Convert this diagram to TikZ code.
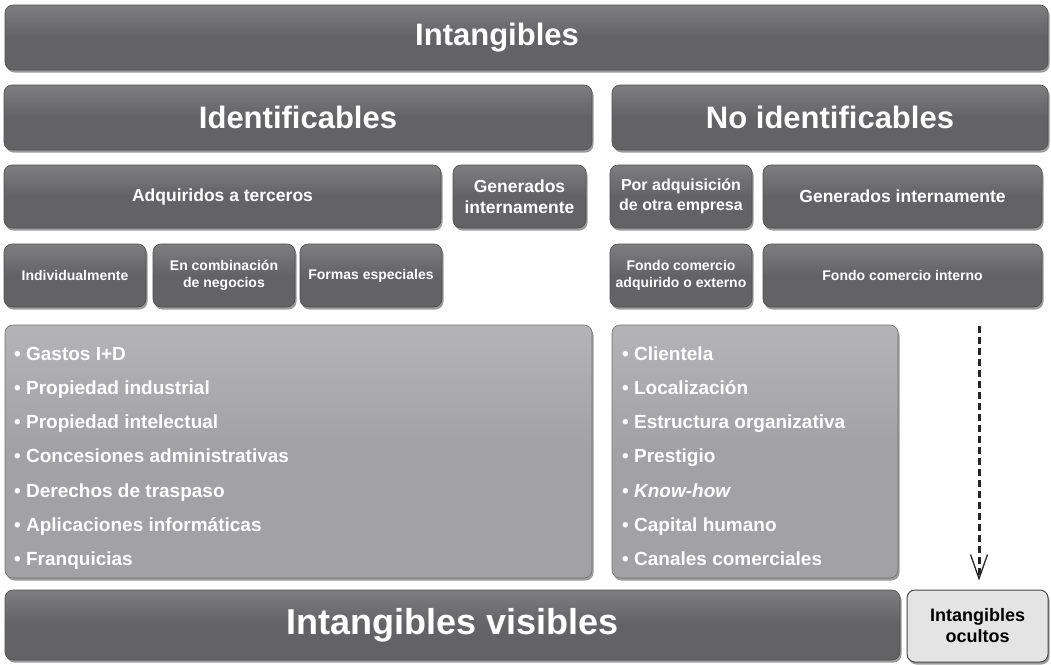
\documentclass[tikz,border=0pt]{standalone}
\usepackage{fontspec}
\setmainfont{Liberation Sans}
\usetikzlibrary{shadows,arrows.meta}
\definecolor{boxdark}{HTML}{636366}
\definecolor{boxtop}{HTML}{7E7E81}
\definecolor{listfill}{HTML}{A2A2A5}
\definecolor{listtop}{HTML}{B4B4B7}
\definecolor{lightfill}{HTML}{E4E4E4}
\definecolor{edgegray}{HTML}{4A4A4D}
\tikzset{
  x=1pt, y=1pt,
  basebox/.style={rounded corners=8pt, inner sep=0pt, align=center,
    drop shadow={shadow xshift=1.5pt, shadow yshift=-2.5pt, opacity=0.55, fill=black!70}},
  darkbox/.style={basebox, top color=boxtop, bottom color=boxdark, middle color=boxdark,
    draw=boxdark!80!black, line width=0.6pt, text=white},
  listbox/.style={basebox, top color=listtop, bottom color=listfill, middle color=listfill,
    draw=listfill!70!black, line width=0.6pt},
  lightbox/.style={basebox, fill=lightfill, draw=edgegray, line width=1pt, text=black},
  huge label/.style={font=\fontsize{31}{35}\selectfont\bfseries},
  mid label/.style={font=\fontsize{17.5}{21}\selectfont\bfseries},
  small label/.style={font=\fontsize{14}{17}\selectfont\bfseries},
  item/.style={anchor=base west, inner sep=0pt, text=white, font=\fontsize{19}{22}\selectfont\bfseries},
  hidden arrow/.style={dash pattern=on 7pt off 4pt, line width=3pt, draw=black!85,
    -{Straight Barb[length=24pt,width=17pt,line width=1.3pt]}},
}
\begin{document}
\begin{tikzpicture}
\useasboundingbox (0,0) rectangle (1051,-664);
\fill[white] (0,0) rectangle (1051,-664);

% top level
\node[darkbox, minimum width=1043pt, minimum height=65pt] (intang) at (526.5,-37.5) {};
\node[huge label, text=white] (intangtxt) at (497,-38) {Intangibles};

% second level
\node[darkbox, huge label, minimum width=588pt, minimum height=65pt] (ident) at (298,-117.5) {Identificables};
\node[darkbox, huge label, minimum width=436pt, minimum height=65pt] (noident) at (830,-117.5) {No identificables};

% third level
\node[darkbox, mid label, minimum width=437pt, minimum height=63pt] (adq) at (222.5,-196.5) {Adquiridos a terceros};
\node[darkbox, mid label, minimum width=133pt, minimum height=63pt] (genid) at (519.5,-196.5) {Generados\\internamente};
\node[darkbox, font=\fontsize{16}{20}\selectfont\bfseries, minimum width=142pt, minimum height=63pt] (poradq) at (681,-196.5) {Por adquisición\\de otra empresa};
\node[darkbox, mid label, minimum width=279pt, minimum height=63pt] (genno) at (902.5,-196.5) {Generados internamente};

% fourth level
\node[darkbox, small label, minimum width=142pt, minimum height=63pt] (indiv) at (75,-275.5) {Individualmente};
\node[darkbox, small label, minimum width=142pt, minimum height=63pt] (comb) at (224,-275.5) {En combinación\\de negocios};
\node[darkbox, small label, minimum width=142pt, minimum height=63pt] (formas) at (371,-275.5) {Formas especiales};
\node[darkbox, small label, minimum width=142pt, minimum height=63pt] (fondoadq) at (681,-275.5) {Fondo comercio\\adquirido o externo};
\node[darkbox, small label, minimum width=279pt, minimum height=63pt] (fondoint) at (902.5,-275.5) {Fondo comercio interno};

% lists (baselines every 34.3pt)
\node[listbox, minimum width=587pt, minimum height=253pt] (leftlist) at (298.5,-451.5) {};
\node[listbox, minimum width=286pt, minimum height=253pt] (rightlist) at (755,-451.5) {};

\node[item] (l1) at (14,-360) {• Gastos I+D};
\node[item] (l2) at (14,-394.3) {• Propiedad industrial};
\node[item] (l3) at (14,-428.6) {• Propiedad intelectual};
\node[item] (l4) at (14,-462.9) {• Concesiones administrativas};
\node[item] (l5) at (14,-497.2) {• Derechos de traspaso};
\node[item] (l6) at (14,-531.5) {• Aplicaciones informáticas};
\node[item] (l7) at (14,-565.8) {• Franquicias};

\node[item] (r1) at (622,-360) {• Clientela};
\node[item] (r2) at (622,-394.3) {• Localización};
\node[item] (r3) at (622,-428.6) {• Estructura organizativa};
\node[item] (r4) at (622,-462.9) {• Prestigio};
\node[item] (r5) at (622,-497.2) {• \textit{Know-how}};
\node[item] (r6) at (622,-531.5) {• Capital humano};
\node[item] (r7) at (622,-565.8) {• Canales comerciales};

% bottom level
\node[darkbox, font=\fontsize{36}{40}\selectfont\bfseries, minimum width=895pt, minimum height=70pt] (visibles) at (452.5,-625) {Intangibles visibles};
\node[lightbox, font=\fontsize{18}{21}\selectfont\bfseries, minimum width=141pt, minimum height=72pt] (ocultos) at (977.5,-626) {Intangibles\\ocultos};

% hidden intangibles pointer
\coordinate (hidstart) at (979,-326);
\draw[hidden arrow, shorten >=9pt] (hidstart) -- (ocultos.north -| hidstart);
\end{tikzpicture}
\end{document}
